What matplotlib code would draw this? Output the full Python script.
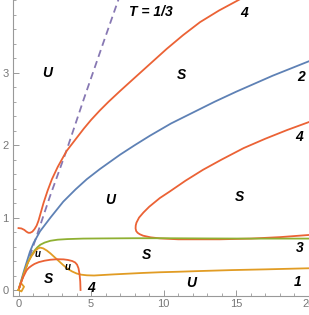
import matplotlib
matplotlib.use("Agg")
import matplotlib.pyplot as plt
from matplotlib.ticker import MultipleLocator

# ---- data ----
# dashed T = 1/3 line
t13_x = [0.0, 2.16, 3.31, 4.5, 5.83, 6.86, 7.2]
t13_y = [0.0, 1.29, 1.93, 2.64, 3.41, 4.0, 4.2]

# blue curve "2"
c2_x = [0.0, 0.4, 0.79, 1.04, 1.48, 2.2, 3.08, 3.93, 4.7, 5.6, 7.0, 8.0, 9.04, 10.5, 12.0, 13.5, 15.0, 17.5, 20.0]
c2_y = [0.0, 0.28, 0.53, 0.65, 0.81, 1.0, 1.22, 1.39, 1.53, 1.67, 1.87, 2.0, 2.13, 2.30, 2.45, 2.60, 2.74, 2.96, 3.16]

# red upper curve "4"
c4a_x = [0.0, 0.2, 0.4, 0.55, 0.68, 0.8, 0.95, 1.1, 1.25, 1.38, 1.55, 1.72, 2.0, 2.3, 2.7, 3.31, 4.0, 4.5, 5.0, 5.6, 6.2, 7.0, 7.88, 9.04, 10.2, 11.33, 12.5, 13.8, 15.1, 16.0]
c4a_y = [0.855, 0.85, 0.83, 0.805, 0.79, 0.79, 0.805, 0.84, 0.89, 0.96, 1.08, 1.20, 1.37, 1.53, 1.70, 1.92, 2.10, 2.23, 2.35, 2.48, 2.60, 2.75, 2.91, 3.12, 3.33, 3.52, 3.70, 3.86, 4.0, 4.1]

# red C-shaped curve "4"
c4b_x = [20.0, 18.5, 17.0, 15.5, 13.97, 12.7, 11.5, 10.41, 9.73, 9.0, 8.6, 8.3, 8.12, 8.07, 8.06, 8.1, 8.2, 8.35, 8.58, 9.1, 9.73, 11.0, 12.5, 13.85, 16.0, 18.0, 20.0]
c4b_y = [2.32, 2.21, 2.09, 1.96, 1.80, 1.66, 1.51, 1.36, 1.27, 1.15, 1.07, 1.0, 0.93, 0.89, 0.85, 0.815, 0.79, 0.77, 0.75, 0.727, 0.713, 0.70, 0.70, 0.70, 0.71, 0.73, 0.76]

# red lower curve "4"
c4c_x = [0.05, 0.3, 0.55, 0.7, 0.9, 1.1, 1.4, 1.8, 2.2, 2.7, 3.1, 3.4, 3.7, 3.9, 4.03, 4.13, 4.2, 4.25, 4.27]
c4c_y = [0.03, 0.17, 0.27, 0.305, 0.335, 0.36, 0.385, 0.405, 0.418, 0.425, 0.423, 0.415, 0.40, 0.38, 0.35, 0.30, 0.22, 0.12, 0.0]

# green curve "3"
c3_x = [0.0, 0.35, 0.69, 0.9, 1.1, 1.3, 1.5, 1.8, 2.2, 2.7, 3.35, 4.45, 5.66, 8.0, 10.0, 13.0, 16.0, 20.0]
c3_y = [0.0, 0.22, 0.40, 0.48, 0.545, 0.59, 0.625, 0.655, 0.68, 0.695, 0.703, 0.71, 0.712, 0.715, 0.715, 0.712, 0.71, 0.71]

# orange curve "1"
c1_x = [0.0, 0.3, 0.6, 0.9, 1.15, 1.35, 1.5, 1.7, 1.95, 2.2, 2.5, 2.8, 3.1, 3.4, 3.7, 4.0, 4.3, 4.7, 5.2, 5.8, 6.5, 7.5, 8.5, 9.73, 11.0, 12.5, 14.7, 17.0, 20.0]
c1_y = [0.0, 0.18, 0.36, 0.47, 0.54, 0.575, 0.585, 0.575, 0.545, 0.505, 0.45, 0.395, 0.34, 0.29, 0.255, 0.228, 0.212, 0.203, 0.20, 0.207, 0.215, 0.225, 0.235, 0.245, 0.252, 0.262, 0.275, 0.285, 0.30]

# small orange loop near the origin
c1s_x = [0.0, 0.15, 0.38, 0.2, 0.0]
c1s_y = [0.0, 0.10, 0.045, -0.02, 0.0]

# region labels: (text, x, y, size)
labels = [
    ("T = 1/3", 9.14, 3.84, 10),
    ("U", 1.96, 3.0, 10),
    ("S", 11.24, 2.97, 10),
    ("4", 15.5, 3.83, 10),
    ("2", 19.48, 2.94, 10),
    ("4", 19.35, 2.11, 10),
    ("U", 6.29, 1.24, 10),
    ("S", 15.22, 1.28, 10),
    ("S", 8.83, 0.48, 10),
    ("3", 19.35, 0.58, 10),
    ("U", 11.92, 0.10, 10),
    ("1", 19.21, 0.11, 10),
    ("S", 2.03, 0.15, 10),
    ("4", 4.98, 0.03, 10),
    ("u", 1.34, 0.50, 7),
    ("u", 3.40, 0.32, 7),
]

xticks = [0, 5, 10, 15, 20]
yticks = [0, 1, 2, 3]

# ---- colours ----
BLUE = "#5E81B5"
ORANGE = "#E19C24"
GREEN = "#8FB032"
RED = "#EB6235"
PURPLE = "#8778B3"
AXC = "#999999"

fig = plt.figure(figsize=(3.09, 3.15), dpi=100)
ax = fig.add_axes([12.7 / 309, 19 / 315, 1 - 12.7 / 309, (315 - 19 - 0.4) / 315])

lw = 1.3
ax.plot(t13_x, t13_y, color=PURPLE, lw=lw, ls=(0, (4, 2.5)))
ax.plot(c2_x, c2_y, color=BLUE, lw=lw)
ax.plot(c4a_x, c4a_y, color=RED, lw=lw)
ax.plot(c4b_x, c4b_y, color=RED, lw=lw)
ax.plot(c3_x, c3_y, color=GREEN, lw=lw)
ax.plot(c1_x, c1_y, color=ORANGE, lw=lw)
ax.plot(c1s_x, c1s_y, color=ORANGE, lw=lw)
ax.plot(c4c_x, c4c_y, color=RED, lw=lw)

for txt, x, y, s in labels:
    ax.text(x, y, txt, fontsize=s, fontweight="bold", fontstyle="italic",
            family="Liberation Sans", ha="center", va="center", color="black")

ax.set_xlim(-0.4, 20.0)
ax.set_ylim(-0.083, 4.0)

for side in ("top", "right"):
    ax.spines[side].set_visible(False)
for side in ("left", "bottom"):
    ax.spines[side].set_color(AXC)
    ax.spines[side].set_linewidth(0.8)

ax.set_xticks(xticks)
ax.set_yticks(yticks)
ax.xaxis.set_minor_locator(MultipleLocator(1))
ax.yaxis.set_minor_locator(MultipleLocator(0.2))
ax.tick_params(which="major", direction="in", length=4, width=0.7, color=AXC,
               labelcolor="#777777", labelsize=8, pad=2)
ax.tick_params(which="minor", direction="in", length=2, width=0.6, color=AXC)
ax.tick_params(axis="y", pad=3)
for lab in ax.get_xticklabels() + ax.get_yticklabels():
    lab.set_family("Liberation Sans")

fig.savefig("out.png", dpi=100)
